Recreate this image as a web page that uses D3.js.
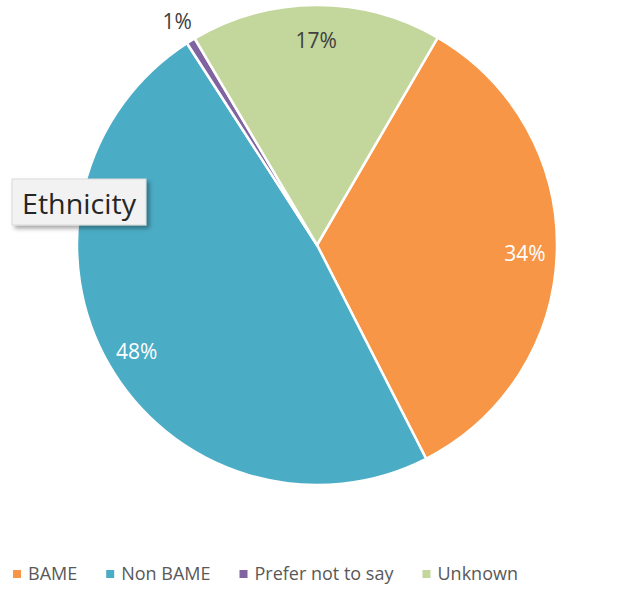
<!DOCTYPE html>
<html>
<head>
<meta charset="utf-8">
<script src="https://cdn.jsdelivr.net/npm/d3@7"></script>
<style>
  html, body { margin: 0; padding: 0; background: #fff; }
  svg { display: block; font-family: 'Open Sans', sans-serif; }
</style>
</head>
<body>
<svg id="chart" width="632" height="589"></svg>
<script>
const categories = ['BAME', 'Non BAME', 'Prefer not to say', 'Unknown']
const values = [34.1, 48.4, 0.6, 16.9]
const colors = ['#F79646', '#4BACC6', '#8064A2', '#C3D69B']
const labelColors = ['#fff', '#fff', '#404040', '#404040']
const title = 'Ethnicity'

const width = 632
const height = 589
const cx = 317
const cy = 245
const radius = 240
const startAngle = 30.2 * Math.PI / 180

const svg = d3.select('#chart')

const defs = svg.append('defs')
const shadow = defs.append('filter').attr('id', 'shadow')
  .attr('x', '-20%').attr('y', '-20%').attr('width', '140%').attr('height', '160%')
shadow.append('feDropShadow')
  .attr('dx', 3).attr('dy', 3).attr('stdDeviation', 2)
  .attr('flood-color', '#000').attr('flood-opacity', 0.35)

const data = categories.map((c, i) => ({ name: c, value: values[i], color: colors[i], label: labelColors[i] }))

const pie = d3.pie()
  .value(d => d.value)
  .sort(null)
  .startAngle(startAngle)
  .endAngle(startAngle + 2 * Math.PI)

const arcs = pie(data)

const arc = d3.arc().innerRadius(0).outerRadius(radius)
const labelArc = d3.arc().innerRadius(208).outerRadius(208)
const outerArc = d3.arc().innerRadius(266).outerRadius(266)

const g = svg.append('g').attr('transform', `translate(${cx},${cy})`)

g.selectAll('.slice')
  .data(arcs)
  .join('path')
  .attr('class', 'slice')
  .attr('d', arc)
  .attr('fill', d => d.data.color)
  .attr('stroke', '#fff')
  .attr('stroke-width', 2.5)

g.selectAll('.label')
  .data(arcs)
  .join('text')
  .attr('class', 'label')
  .attr('transform', d => {
    const p = d.data.value < 2 ? outerArc.centroid(d) : labelArc.centroid(d)
    return `translate(${p[0]},${p[1] + 3})`
  })
  .attr('text-anchor', 'middle')
  .attr('dy', '0.36em')
  .attr('font-size', 21)
  .attr('fill', d => d.data.label)
  .text(d => Math.round(d.data.value) + '%')

// title box
const tg = svg.append('g')
tg.append('rect')
  .attr('x', 12).attr('y', 179)
  .attr('width', 134).attr('height', 46)
  .attr('fill', '#f2f2f2')
  .attr('stroke', '#d9d9d9')
  .attr('stroke-width', 1)
  .attr('filter', 'url(#shadow)')
tg.append('text')
  .attr('x', 79).attr('y', 214)
  .attr('text-anchor', 'middle')
  .attr('font-size', 28)
  .attr('fill', '#262626')
  .attr('textLength', 114)
  .attr('lengthAdjust', 'spacingAndGlyphs')
  .text(title)

// legend
const legend = svg.append('g').attr('transform', `translate(13,${height - 9})`)
let x = 0
data.forEach(d => {
  const item = legend.append('g').attr('transform', `translate(${x},0)`)
  item.append('rect')
    .attr('x', 0).attr('y', -10)
    .attr('width', 8).attr('height', 8)
    .attr('fill', d.color)
  const t = item.append('text')
    .attr('x', 15).attr('y', 0)
    .attr('font-size', 18)
    .attr('fill', '#595959')
    .text(d.name)
  x += 15 + t.node().getComputedTextLength() + 29
})
</script>
</body>
</html>
